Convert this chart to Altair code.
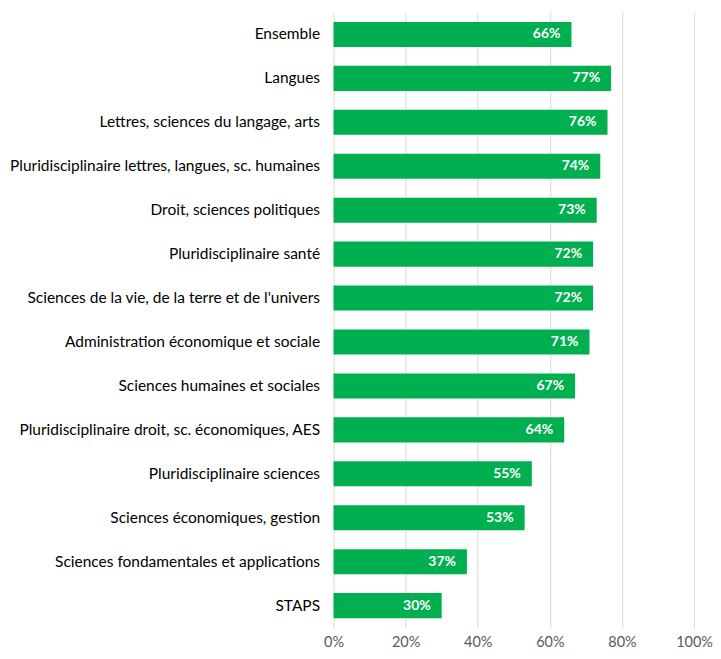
import altair as alt
import pandas as pd

categories = [
    "Ensemble",
    "Langues",
    "Lettres, sciences du langage, arts",
    "Pluridisciplinaire lettres, langues, sc. humaines",
    "Droit, sciences politiques",
    "Pluridisciplinaire santé",
    "Sciences de la vie, de la terre et de l'univers",
    "Administration économique et sociale",
    "Sciences humaines et sociales",
    "Pluridisciplinaire droit, sc. économiques, AES",
    "Pluridisciplinaire sciences",
    "Sciences économiques, gestion",
    "Sciences fondamentales et applications",
    "STAPS",
]
values = [0.66, 0.77, 0.76, 0.74, 0.73, 0.72, 0.72, 0.71, 0.67, 0.64, 0.55, 0.53, 0.37, 0.30]
labels = ["66%", "77%", "76%", "74%", "73%", "72%", "72%", "71%", "67%", "64%", "55%", "53%", "37%", "30%"]

df = pd.DataFrame({"cat": categories, "val": values, "lab": labels})

FONT = "Lato, Liberation Sans, sans-serif"

y = alt.Y("cat:N", sort=categories, title=None,
          scale=alt.Scale(paddingInner=0.43, paddingOuter=0.215),
          axis=alt.Axis(labelFontSize=15.5, labelFont=FONT, labelColor="#000000",
                        ticks=False, domain=False, labelPadding=14, labelLimit=400))
x = alt.X("val:Q", title=None,
          scale=alt.Scale(domain=[0, 1], nice=False),
          axis=alt.Axis(format=".0%", values=[0, 0.2, 0.4, 0.6, 0.8, 1.0],
                        labelFontSize=14.5, labelFont=FONT, labelColor="#595959",
                        labelFlush=False,
                        grid=True, gridColor="#D9D9D9", gridWidth=1,
                        ticks=False, domain=False, labelPadding=8))

bars = alt.Chart(df).mark_bar(color="#00B050").encode(x=x, y=y)
text = alt.Chart(df).mark_text(align="right", baseline="middle", dx=-11, color="white",
                               fontWeight="bold", fontSize=14, font=FONT).encode(
    x="val:Q", y=alt.Y("cat:N", sort=categories), text="lab:N")

chart = (bars + text).properties(
    width=361, height=616,
    autosize=alt.AutoSizeParams(type="none"),
    padding={"left": 326, "top": 4, "right": 19, "bottom": 28},
).configure_view(stroke=None)

chart.save("out.html", embed_options={"renderer": "svg", "actions": False})
